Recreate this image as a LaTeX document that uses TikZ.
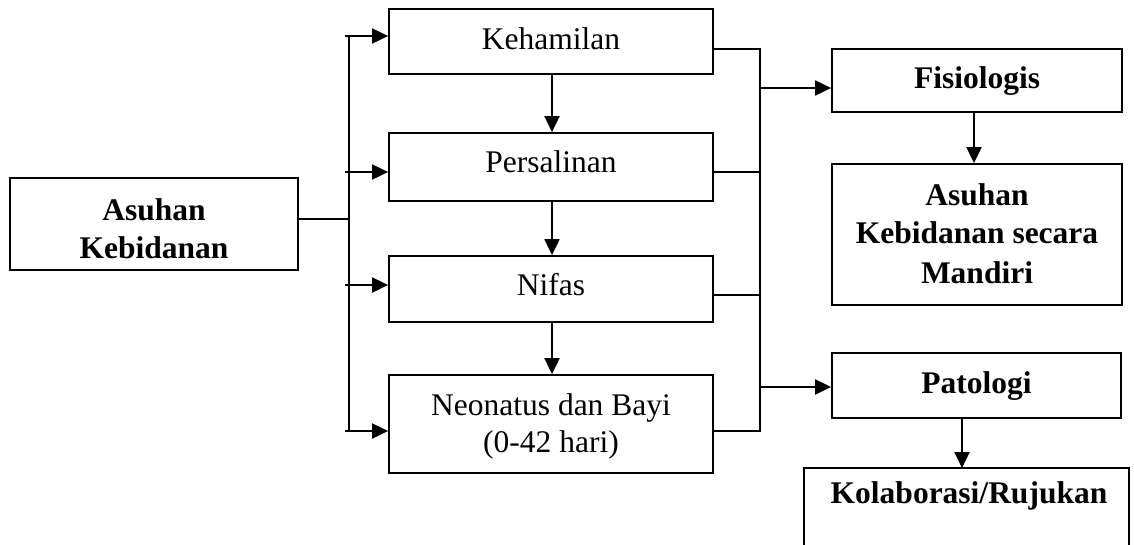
\documentclass[tikz,border=0pt]{standalone}
\usepackage{fontspec}
\setmainfont{Liberation Serif}
\usetikzlibrary{arrows.meta}
\begin{document}
\begin{tikzpicture}[x=1pt,y=-1pt,
  box/.style={draw=black,line width=1.8pt,rectangle,inner sep=0pt},
  rtxt/.style={inner sep=0pt,anchor=base,font=\fontsize{31.5}{39}\selectfont},
  btxt/.style={rtxt,font=\fontsize{31.5}{39}\selectfont\bfseries},
  arr/.style={line width=2pt,-{Triangle[length=16pt,width=15pt]}},
  ln/.style={line width=1.6pt},
  thin/.style={line width=1.2pt}]
\useasboundingbox (0,0) rectangle (1134,544);
% left box
\node[box,minimum width=288pt,minimum height=92pt] (asuhan) at (154,224) {};
\node[btxt] (asuhanA) at (154,220) {Asuhan};
\node[btxt] (asuhanB) at (154,258) {Kebidanan};
% middle column
\node[box,minimum width=324pt,minimum height=65pt] (keh) at (551,41.5) {};
\node[rtxt] (kehT) at (551,49) {Kehamilan};
\node[box,minimum width=324pt,minimum height=68pt] (per) at (551,167) {};
\node[rtxt] (perT) at (551,172) {Persalinan};
\node[box,minimum width=324pt,minimum height=66pt] (nif) at (551,289) {};
\node[rtxt] (nifT) at (551,295) {Nifas};
\node[box,minimum width=324pt,minimum height=98pt] (neo) at (551,424) {};
\node[rtxt] (neoA) at (551,415) {Neonatus dan Bayi};
\node[rtxt] (neoB) at (551,452) {(0-42 hari)};
% right column
\node[box,minimum width=290pt,minimum height=63pt] (fis) at (977,80.5) {};
\node[btxt] (fisT) at (977,88) {Fisiologis};
\node[box,minimum width=290pt,minimum height=141pt] (man) at (977,234.5) {};
\node[btxt] (manA) at (977,205) {Asuhan};
\node[btxt] (manB) at (977,243) {Kebidanan secara};
\node[btxt] (manC) at (977,283) {Mandiri};
\node[box,minimum width=289pt,minimum height=65pt] (pat) at (976.5,385.5) {};
\node[btxt] (patT) at (976.5,393) {Patologi};
% bottom open box
\coordinate (kbl) at (804,546);
\coordinate (ktl) at (804,468);
\coordinate (ktr) at (1129,468);
\coordinate (kbr) at (1129,546);
\draw[line width=1.8pt] (kbl) -- (ktl) -- (ktr) -- (kbr);
\node[btxt] (kol) at (969,503) {Kolaborasi/Rujukan};
% left bracket
\coordinate (lb0) at (349,219);
\coordinate (lt) at (349,36);
\coordinate (lbt) at (349,431);
\draw[thin] (asuhan.east |- lb0) -- (lb0);
\draw[ln] (lt) -- (lbt);
\coordinate (l1) at (345,36);
\coordinate (l2) at (345,172);
\coordinate (l3) at (345,285);
\coordinate (l4) at (345,431);
\draw[arr] (l1) -- (l1 -| keh.west);
\draw[arr] (l2) -- (l2 -| per.west);
\draw[arr] (l3) -- (l3 -| nif.west);
\draw[arr] (l4) -- (l4 -| neo.west);
% middle arrows
\coordinate (mx) at (552,0);
\draw[arr] (keh.south -| mx) -- (per.north -| mx);
\draw[arr] (per.south -| mx) -- (nif.north -| mx);
\draw[arr] (nif.south -| mx) -- (neo.north -| mx);
% right bracket
\coordinate (r1) at (760,49);
\coordinate (r2) at (760,172);
\coordinate (r3) at (760,295);
\coordinate (r4) at (760,431);
\draw[ln] (keh.east |- r1) -- (r1) -- (r4) -- (neo.east |- r4);
\draw[ln] (per.east |- r2) -- (r2);
\draw[ln] (nif.east |- r3) -- (r3);
\coordinate (ra) at (760,88);
\coordinate (rb) at (760,387);
\draw[arr] (ra) -- (ra -| fis.west);
\draw[arr] (rb) -- (rb -| pat.west);
% right arrows
\coordinate (fx) at (974,0);
\draw[arr] (fis.south -| fx) -- (man.north -| fx);
\coordinate (px) at (962,0);
\draw[arr] (pat.south -| px) -- (ktl -| px);
\end{tikzpicture}
\end{document}
